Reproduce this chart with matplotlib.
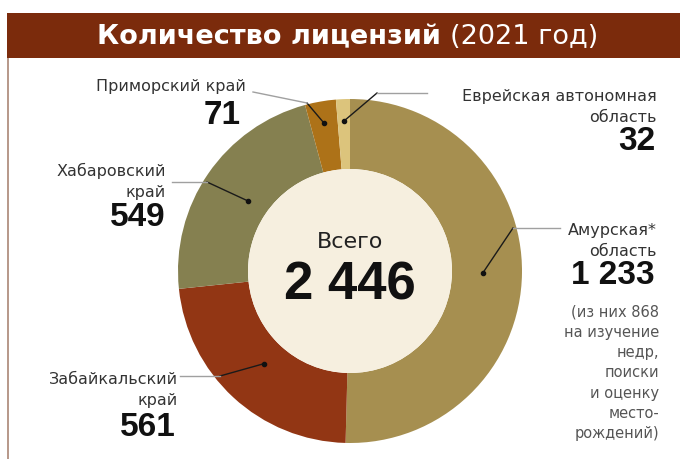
import matplotlib
matplotlib.use("Agg")
import matplotlib.pyplot as plt
from matplotlib.patches import Rectangle, Circle
import numpy as np

plt.rcParams['font.family'] = ['DejaVu Sans']

# data
regions = ['Амурская область', 'Забайкальский край', 'Хабаровский край',
           'Приморский край', 'Еврейская автономная область']
licenses = [1233, 561, 549, 71, 32]
total = 2446
colors = ['#a68f50', '#923614', '#858050', '#ad7218', '#dcc47c']

W, H = 680, 459
fig = plt.figure(figsize=(6.8, 4.59), dpi=100)
ax = fig.add_axes([0, 0, 1, 1])

def Y(y):  # image y -> axes y
    return H - y

def fmt(v):
    return f'{v:,}'.replace(',', ' ')

# donut
cx, cy, R, r_in = 350, Y(271), 172, 102
wedges, _ = ax.pie(licenses, colors=colors, startangle=90, counterclock=False,
                   center=(cx, cy), radius=R, frame=True,
                   wedgeprops=dict(width=R - r_in, linewidth=0))
ax.set_xlim(0, W)
ax.set_ylim(0, H)
ax.axis('off')
ax.add_patch(Circle((cx, cy), r_in, color='#f6efdf', lw=0, zorder=3))

# frame + title bar
ax.add_patch(Rectangle((7, Y(459)), 2, 459 - 58, color='#b89a8c', lw=0))
ax.add_patch(Rectangle((7, Y(58)), W - 7, 45, color='#7b2b0c', lw=0))
ax.text(441, Y(37), 'Количество лицензий', color='white', fontsize=19.5,
        fontweight='bold', ha='right', va='center')
ax.text(450, Y(37), '(2021 год)', color='white', fontsize=19.5,
        ha='left', va='center')

num = ['Liberation Sans', 'DejaVu Sans']
ax.text(cx, Y(242), 'Всего', fontsize=16, ha='center', va='center', zorder=4,
        color='#222222')
ax.text(cx, Y(285), fmt(total), fontsize=38,
        fontweight='bold', ha='center', va='center', zorder=4,
        color='#111111', family=num)

# leader lines: (dot radius, elbow point, gray end point)
leaders = [
    (133, (513, 228), (560, 228)),
    (126, (220, 376), (180, 376)),
    (124, (207, 182), (172, 182)),
    (150, (307, 103), (253, 92)),
    (150, (377, 93), (427, 93)),
]
for w, (rd, elbow, end) in zip(wedges, leaders):
    a = np.deg2rad((w.theta1 + w.theta2) / 2)
    dx, dy = cx + rd * np.cos(a), cy + rd * np.sin(a)
    ax.plot([dx, elbow[0]], [dy, Y(elbow[1])], color='#1a1a1a', lw=1, zorder=5)
    ax.plot([elbow[0], end[0]], [Y(elbow[1]), Y(end[1])], color='#a0a0a0',
            lw=1, zorder=5)
    ax.plot(dx, dy, 'o', color='#111111', ms=3, zorder=6)

small = dict(fontsize=11.5, color='#333333', va='center')
big = dict(fontsize=24, fontweight='bold', color='#111111', va='center',
           family=num)

# labels
ax.text(246, Y(87), 'Приморский край', ha='right', **small)
ax.text(241, Y(115), fmt(licenses[3]), ha='right', **big)

ax.text(166, Y(171), 'Хабаровский', ha='right', **small)
ax.text(166, Y(192), 'край', ha='right', **small)
ax.text(166, Y(218), fmt(licenses[2]), ha='right', **big)

ax.text(178, Y(379), 'Забайкальский', ha='right', **small)
ax.text(178, Y(400), 'край', ha='right', **small)
ax.text(176, Y(428), fmt(licenses[1]), ha='right', **big)

ax.text(657, Y(96), 'Еврейская автономная', ha='right', **small)
ax.text(657, Y(117), 'область', ha='right', **small)
ax.text(655, Y(142), fmt(licenses[4]), ha='right', **big)

ax.text(657, Y(230), 'Амурская*', ha='right', **small)
ax.text(657, Y(251), 'область', ha='right', **small)
ax.text(655, Y(275), fmt(licenses[0]), ha='right', **big)
note = ['(из них 868', 'на изучение', 'недр,', 'поиски', 'и оценку',
        'место-', 'рождений)']
for i, s in enumerate(note):
    ax.text(659, Y(312 + i * 20.3), s, ha='right', fontsize=10.5,
            color='#555555', va='center')

fig.savefig('out.png', dpi=100, facecolor='white')
